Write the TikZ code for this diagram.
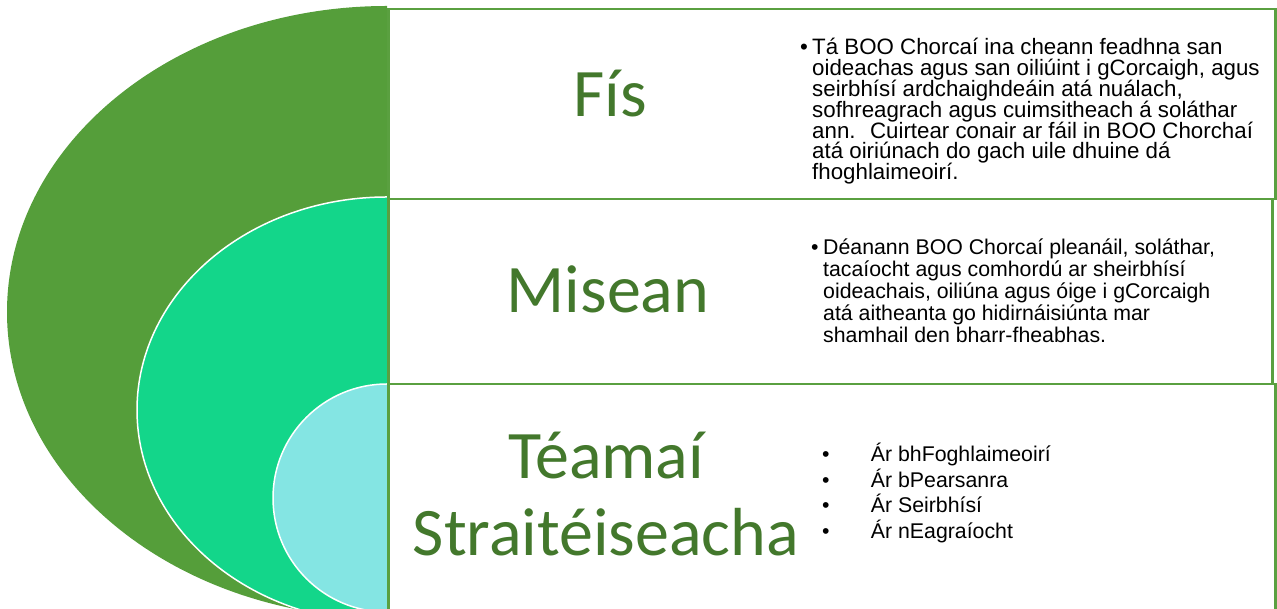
\documentclass[tikz,border=0pt]{standalone}
\usepackage{fontspec}
\setmainfont{Liberation Sans}
\newfontfamily\titlefont{Carlito}
\usetikzlibrary{positioning}

\definecolor{darkfill}{RGB}{85,158,58}
\definecolor{midfill}{RGB}{19,214,138}
\definecolor{innerfill}{RGB}{132,229,227}
\definecolor{boxline}{RGB}{90,160,64}
\definecolor{titlegreen}{RGB}{67,120,44}

\newcommand\tightlines{\lineskiplimit=-30pt\relax}

\begin{document}
\begin{tikzpicture}[x=1pt, y=1pt,
    panel/.style={draw=boxline, line width=2.5pt, fill=white, rectangle, anchor=north west, inner sep=0pt},
    heading/.style={anchor=base, inner sep=0pt, text=titlegreen, font={\titlefont\fontsize{68}{77}\selectfont}},
    bodytext/.style={anchor=base west, inner sep=0pt, align=left},
    fisfont/.style={font={\fontsize{22.3}{20.8}\selectfont\tightlines}},
    miseanfont/.style={font={\fontsize{21.3}{21.9}\selectfont\tightlines}},
    listfont/.style={font={\fontsize{21.3}{25.6}\selectfont\tightlines}}]
  \useasboundingbox (0,0) rectangle (1277,609);
  \clip (0,0) rectangle (1277,609);

  \begin{scope}
    \clip (0,0) rectangle (387,609);
    \fill[darkfill] (387,297) ellipse [x radius=380, y radius=306];
    \filldraw[fill=midfill, draw=white, line width=1.5pt] (387,199) ellipse [x radius=250, y radius=213];
    \filldraw[fill=innerfill, draw=white, line width=1.5pt] (387,111) circle [radius=114];
  \end{scope}

  \node[panel, minimum width=887pt, minimum height=190pt] (fisbox) at (387,601) {};
  \node[panel, minimum width=884pt, minimum height=185pt] (miseanbox) at (387,411) {};
  \node[panel, minimum width=887pt, minimum height=236pt] (teamaibox) at (387,226) {};

  \node[heading] (fis) at (610,492) {Fís};
  \node[heading] (misean) at (608,296) {Misean};
  \node[heading] (teamai) at (606,130) {Téamaí};
  \node[heading] (straiteis) at (606,53) {Straitéiseacha};

  \node[bodytext, fisfont] (fisbullet) at (800,554) {•};
  \node[bodytext, fisfont] (fistext) at (812,429.2)
    {Tá BOO Chorcaí ina cheann feadhna san\\
     oideachas agus san oiliúint i gCorcaigh, agus\\
     seirbhísí ardchaighdeáin atá nuálach,\\
     sofhreagrach agus cuimsitheach á soláthar\\
     ann.~ Cuirtear conair ar fáil in BOO Chorchaí\\
     atá oiriúnach do gach uile dhuine dá\\
     fhoghlaimeoirí.};

  \node[bodytext, miseanfont] (miseanbullet) at (811,354) {•};
  \node[bodytext, miseanfont] (miseantext) at (823,266.4)
    {Déanann BOO Chorcaí pleanáil, soláthar,\\
     tacaíocht agus comhordú ar sheirbhísí\\
     oideachais, oiliúna agus óige i gCorcaigh\\
     atá aitheanta go hidirnáisiúnta mar\\
     shamhail den bharr-fheabhas.};

  \node[bodytext, listfont] (teamaibullets) at (822,70.5)
    {•\\•\\•\\•};
  \node[bodytext, listfont] (teamaitext) at (870.7,70.5)
    {Ár bhFoghlaimeoirí\\
     Ár bPearsanra\\
     Ár Seirbhísí\\
     Ár nEagraíocht};
\end{tikzpicture}
\end{document}
